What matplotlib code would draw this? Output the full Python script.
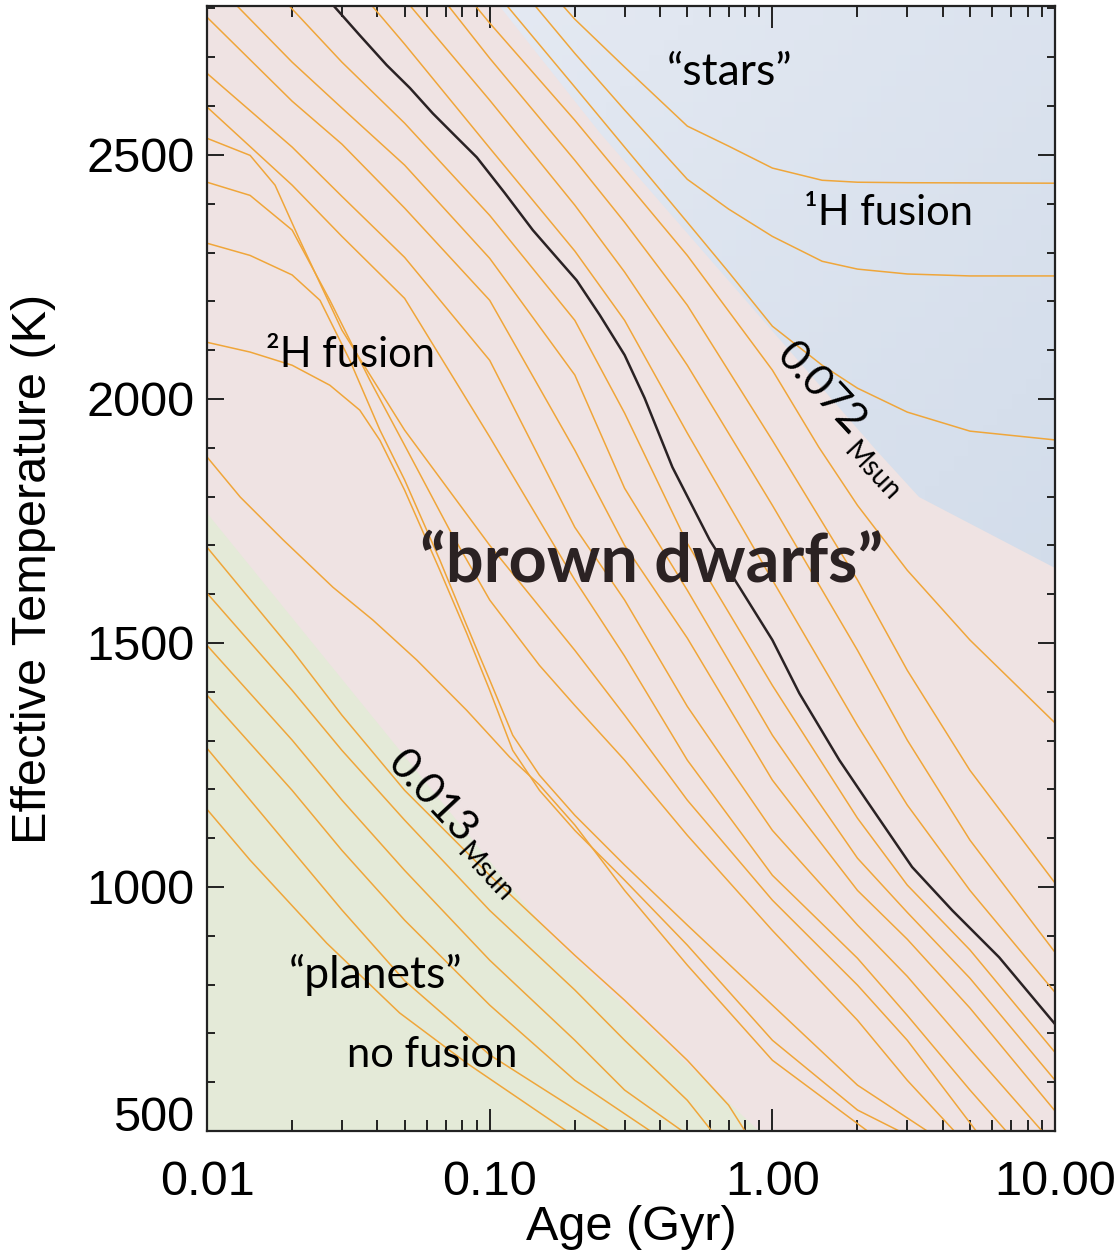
import matplotlib
matplotlib.use("Agg")
import numpy as np
import matplotlib.pyplot as plt
from matplotlib.patches import Polygon
from matplotlib.ticker import FixedLocator, NullFormatter

# cooling tracks: age (Gyr) and effective temperature (K)
# tracks that level off ("stars")
s1_age = [0.1, 0.2, 0.3, 0.5, 0.7, 1, 1.5, 2, 3, 10]
s1_teff = [2975, 2778, 2680, 2559, 2518, 2473, 2448, 2444, 2443, 2442]
s2_age = [0.1, 0.2, 0.3, 0.5, 0.7, 1, 1.5, 2, 3, 5, 10]
s2_teff = [2917, 2708, 2592, 2450, 2389, 2333, 2282, 2266, 2256, 2252, 2252]
s3_age = [0.1, 0.2, 0.3, 0.5, 0.7, 1, 1.5, 2, 3, 5, 10]
s3_teff = [2848, 2639, 2516, 2362, 2260, 2149, 2069, 2022, 1973, 1934, 1916]
s4_age = [0.05, 0.1, 0.2, 0.3, 0.5, 1, 1.46, 2, 3, 5, 10]
s4_teff = [2981, 2770, 2571, 2448, 2294, 2059, 1901, 1782, 1649, 1506, 1336]

# brown dwarf tracks above the black one
r3_age = [0.05, 0.1, 0.2, 0.3, 0.5, 1, 2, 3, 5, 10]
r3_teff = [2919, 2698, 2489, 2362, 2192, 1915, 1629, 1444, 1239, 1008]
r2_age = [0.03, 0.05, 0.1, 0.2, 0.3, 0.5, 1, 2, 3, 5, 10]
r2_teff = [2971, 2819, 2612, 2397, 2260, 2069, 1782, 1485, 1301, 1096, 866]
r1_age = [0.03, 0.05, 0.1, 0.2, 0.3, 0.5, 1, 2, 3, 5, 10]
r1_teff = [2878, 2727, 2514, 2303, 2161, 1930, 1629, 1331, 1168, 993, 784]

# the black track
bk_age = [0.0213, 0.0279, 0.0347, 0.0432, 0.0522, 0.0629, 0.0752, 0.09, 0.113, 0.142,
          0.17, 0.203, 0.245, 0.3, 0.353, 0.443, 0.6, 0.765, 1.0, 1.245, 1.725,
          2.15, 3.12, 4.33, 6.34, 10]
bk_teff = [2889, 2807, 2745, 2684, 2637, 2585, 2540, 2495, 2422, 2346,
           2294, 2243, 2172, 2090, 2002, 1860, 1711, 1614, 1506, 1397, 1260,
           1178, 1041, 952, 856, 719]

# brown dwarf tracks below it
grid_age = [0.01, 0.02, 0.03, 0.05, 0.1, 0.2, 0.3, 0.5, 1, 2, 3, 5, 10]
l1_teff = [2985, 2799, 2690, 2565, 2376, 2161, 1971, 1704, 1413, 1141, 1004, 871, 661]
l2_teff = [2868, 2690, 2596, 2479, 2288, 2049, 1817, 1608, 1311, 1059, 948, 813, 604]
l3_teff = [2782, 2610, 2522, 2391, 2202, 1895, 1700, 1510, 1219, 993, 893, 752, 541]
l4_age = [0.005, 0.01, 0.02, 0.03, 0.05, 0.1, 0.2, 0.3, 0.5, 1, 2, 3, 5, 8.99]
l4_teff = [2850, 2667, 2516, 2415, 2290, 2079, 1737, 1588, 1370, 1116, 922, 817, 668, 500]
l5_age = [0.005, 0.01, 0.02, 0.03, 0.05, 0.1, 0.2, 0.3, 0.5, 1, 2, 3, 5, 6.71]
l5_teff = [2780, 2598, 2438, 2333, 2206, 1922, 1629, 1473, 1260, 1024, 854, 737, 584, 500]

# deuterium burning tracks
d6_age = [0.01, 0.0142, 0.0174, 0.0213, 0.03, 0.05, 0.1, 0.2, 0.3, 0.5, 1, 2, 3, 5.26]
d6_teff = [2534, 2499, 2438, 2325, 2141, 1936, 1700, 1485, 1352, 1178, 973, 799, 686, 500]
d7_age = [0.01, 0.0142, 0.02, 0.0272, 0.0377, 0.05, 0.0722, 0.1, 0.15, 0.2, 0.3, 0.5,
          1, 2, 3, 4.4]
d7_teff = [2444, 2417, 2346, 2202, 2038, 1905, 1731, 1588, 1454, 1372, 1260, 1106,
           911, 727, 604, 500]
d8_age = [0.01, 0.0142, 0.02, 0.0251, 0.032, 0.0409, 0.05, 0.0666, 0.0829, 0.1, 0.1206,
          0.15, 0.2, 0.3, 0.5, 1, 2, 3.53]
d8_teff = [2319, 2294, 2254, 2202, 2079, 1936, 1834, 1670, 1536, 1424, 1311,
           1229, 1147, 1045, 922, 758, 594, 500]
d9_age = [0.01, 0.0142, 0.02, 0.0272, 0.0347, 0.0409, 0.05, 0.0666, 0.0829, 0.1, 0.1206,
          0.15, 0.2, 0.3, 0.5, 1, 2, 2.81]
d9_teff = [2116, 2096, 2069, 2028, 1977, 1915, 1813, 1649, 1520, 1403, 1280,
           1198, 1116, 1014, 881, 686, 543, 500]
d10_age = [0.01, 0.0131, 0.0186, 0.0279, 0.0386, 0.0552, 0.0829, 0.1177, 0.15, 0.2, 0.3,
           0.5, 1, 2.17]
d10_teff = [1881, 1799, 1711, 1614, 1547, 1465, 1362, 1266, 1209, 1127, 993,
            840, 645, 500]

# "planet" tracks
g1_age = [0.01, 0.02, 0.03, 0.05, 0.1, 0.2, 0.3, 0.5, 0.7, 0.8]
g1_teff = [1696, 1485, 1352, 1198, 1024, 860, 768, 645, 553, 500]
g2_age = [0.01, 0.02, 0.03, 0.05, 0.1, 0.2, 0.3, 0.5, 0.61]
g2_teff = [1602, 1403, 1280, 1137, 952, 789, 686, 563, 500]
g3_age = [0.01, 0.02, 0.03, 0.05, 0.1, 0.2, 0.3, 0.48]
g3_teff = [1495, 1301, 1178, 1034, 850, 686, 584, 500]
g4_age = [0.01, 0.02, 0.03, 0.05, 0.1, 0.2, 0.37]
g4_teff = [1393, 1198, 1075, 932, 758, 604, 500]
g5_age = [0.01, 0.02, 0.03, 0.05, 0.1, 0.15, 0.265]
g5_teff = [1284, 1075, 953, 808, 656, 591, 500]
g6_age = [0.01, 0.0142, 0.0265, 0.048, 0.083, 0.187]
g6_teff = [1159, 1055, 885, 742, 639, 500]

# shaded regions
star_age = [0.1, 0.245, 2.33, 3.3, 10, 10, 0.1]
star_teff = [2830, 2545, 1895, 1799, 1654, 2830, 2830]
planet_age = [0.01, 0.163, 0.976, 0.01]
planet_teff = [1766, 902, 480, 480]

orange_tracks = [
    (s1_age, s1_teff), (s2_age, s2_teff), (s3_age, s3_teff), (s4_age, s4_teff),
    (r3_age, r3_teff), (r2_age, r2_teff), (r1_age, r1_teff),
    (grid_age, l1_teff), (grid_age, l2_teff), (grid_age, l3_teff),
    (l4_age, l4_teff), (l5_age, l5_teff),
    (d6_age, d6_teff), (d7_age, d7_teff), (d8_age, d8_teff), (d9_age, d9_teff),
    (d10_age, d10_teff),
    (g1_age, g1_teff), (g2_age, g2_teff), (g3_age, g3_teff),
    (g4_age, g4_teff), (g5_age, g5_teff), (g6_age, g6_teff),
]

PINK = "#efe3e3"
GREEN = "#e4ead8"
ORANGE = "#efa63a"

fig = plt.figure(figsize=(11.18, 12.56), dpi=100)
ax = fig.add_axes([0.1852, 0.0995, 0.7585, 0.8957])
ax.set_xscale("log")
ax.set_xlim(0.01, 10)
ax.set_ylim(500, 2805)
ax.set_facecolor(PINK)

# blue "stars" region, a little darker towards the lower right
star_patch = Polygon(list(zip(star_age, star_teff)), closed=True, facecolor="none",
                     edgecolor="none", transform=ax.transData)
ax.add_patch(star_patch)
gx = np.logspace(-1, 1, 40)
gy = np.linspace(1600, 2830, 40)
GX, GY = np.meshgrid(gx, gy)
shade = (np.log10(GX) + 1) / 2 * 0.5 + (2830 - GY) / 1230 * 0.5
mesh = ax.pcolormesh(GX, GY, shade[:-1, :-1], cmap=matplotlib.colors.LinearSegmentedColormap.from_list(
    "bl", ["#e4e9f2", "#d2dcea"]), shading="flat", zorder=0, rasterized=True)
mesh.set_clip_path(star_patch)

ax.fill(planet_age, planet_teff, color=GREEN, lw=0, zorder=0)

for age, teff in orange_tracks:
    ax.plot(age, teff, color=ORANGE, lw=1.1, zorder=2)
ax.plot(bk_age, bk_teff, color="#2a2224", lw=1.8, zorder=3)

# axes, ticks
ax.xaxis.set_major_locator(FixedLocator([0.01, 0.1, 1, 10]))
ax.xaxis.set_minor_locator(FixedLocator([m * d for d in (0.01, 0.1, 1) for m in range(2, 10)]))
ax.xaxis.set_minor_formatter(NullFormatter())
ax.set_xticklabels(["0.01", "0.10", "1.00", "10.00"])
ax.yaxis.set_major_locator(FixedLocator([500, 1000, 1500, 2000, 2500]))
ax.yaxis.set_minor_locator(FixedLocator(range(500, 2801, 100)))
ax.tick_params(axis="both", which="both", direction="in", top=True, right=True,
               color="#222222", width=1.4)
ax.tick_params(axis="x", which="major", length=16, pad=21, labelsize=35)
ax.tick_params(axis="x", which="minor", length=8)
ax.tick_params(axis="y", which="major", length=12, pad=9, labelsize=35)
ax.tick_params(axis="y", which="minor", length=6)
for lab in ax.get_xticklabels() + ax.get_yticklabels():
    lab.set_fontfamily("Liberation Sans")
ax.get_yticklabels()[0].set_va("baseline")
for sp in ax.spines.values():
    sp.set_linewidth(1.6)
    sp.set_color("#222222")

ax.set_xlabel("Age (Gyr)", fontsize=35, family="Liberation Sans", labelpad=0)
ax.set_ylabel("Effective Temperature (K)", fontsize=35, family="Liberation Sans", labelpad=22)

# annotations
tf = "Lato"
ax.text(0.705, 2669, "\u201cstars\u201d", fontsize=32, family=tf, ha="center", va="center")
ax.text(2.57, 2381, "\u00b9H fusion", fontsize=30, family=tf, ha="center", va="center")
ax.text(0.0323, 2090, "\u00b2H fusion", fontsize=30, family=tf, ha="center", va="center")
ax.text(0.3735, 1665, "\u201cbrown dwarfs\u201d", fontsize=48, family=tf, weight="bold",
        color="#2b2223", ha="center", va="center")
ax.text(0.0395, 819, "\u201cplanets\u201d", fontsize=32, family=tf, ha="center", va="center")
ax.text(0.0624, 655, "no fusion", fontsize=30, family=tf, ha="center", va="center")
ax.text(1.48, 2020, "0.072", fontsize=31, family=tf, rotation=-47, rotation_mode="anchor",
        ha="center", va="center")
ax.text(2.24, 1850, "Msun", fontsize=20, family=tf, rotation=-47, rotation_mode="anchor",
        ha="center", va="center")
ax.text(0.0624, 1184, "0.013", fontsize=31, family=tf, rotation=-47, rotation_mode="anchor",
        ha="center", va="center")
ax.text(0.096, 1030, "Msun", fontsize=20, family=tf, rotation=-47, rotation_mode="anchor",
        ha="center", va="center")

fig.savefig("out.png", dpi=100)
